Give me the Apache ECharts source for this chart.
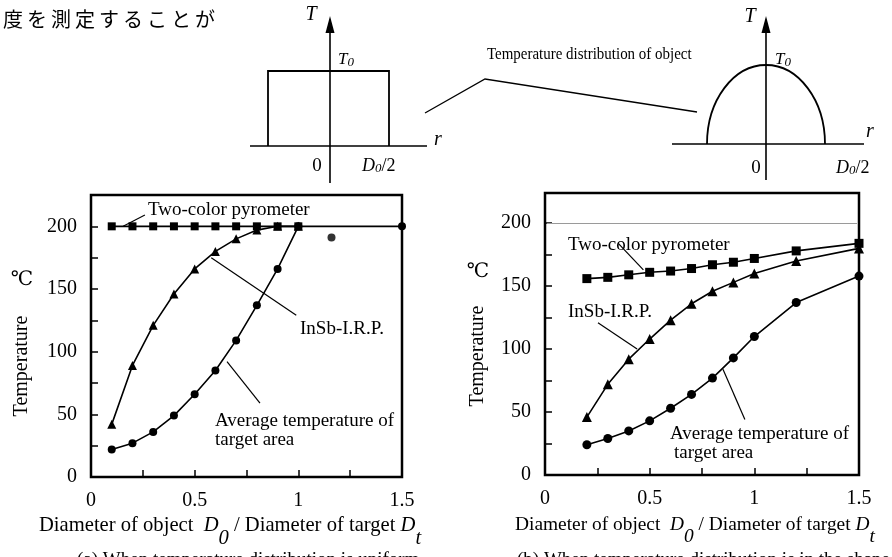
<!DOCTYPE html>
<html>
<head>
<meta charset="utf-8">
<script src="https://cdn.jsdelivr.net/npm/echarts@6/dist/echarts.min.js"></script>
<style>
html,body{margin:0;padding:0;background:#fff;}
#c{width:892px;height:557px;}
</style>
</head>
<body>
<div id="c"></div>
<script>
// ---- data: (a) uniform temperature distribution ----
const ratioA    = [0.1, 0.2, 0.3, 0.4, 0.5, 0.6, 0.7, 0.8, 0.9, 1.0];
const twoColorA = [200, 200, 200, 200, 200, 200, 200, 200, 200, 200];
const insbA     = [42, 89, 121, 146, 166, 180, 190, 197, 200, 200];
const ratioAvgA = [0.1, 0.2, 0.3, 0.4, 0.5, 0.6, 0.7, 0.8, 0.9, 1.0, 1.5];
const avgA      = [22, 27, 36, 49, 66, 85, 109, 137, 166, 200, 200];
const strayA    = [[1.16, 191]];

// ---- data: (b) semi-elliptical temperature distribution ----
const ratioB    = [0.2, 0.3, 0.4, 0.5, 0.6, 0.7, 0.8, 0.9, 1.0, 1.2, 1.5];
const twoColorB = [156, 157, 159, 161, 162, 164, 167, 169, 172, 178, 184];
const insbB     = [46, 72, 92, 108, 123, 136, 146, 153, 160, 170, 180];
const avgB      = [24, 29, 35, 43, 53, 64, 77, 93, 110, 137, 158];

// ---- tick labels ----
const xTickLabels = [0, 0.5, 1, 1.5];
const yTickLabels = [0, 50, 100, 150, 200];

const SERIF = "'Liberation Serif','DejaVu Serif',serif";
const zip = (xs, ys) => xs.map((x, i) => [x, ys[i]]);

function xAxisFor(gi) {
  return {
    type: 'value', gridIndex: gi, min: 0, max: 1.5, interval: 0.25,
    axisLine: { show: false },
    axisTick: { show: true, inside: true, length: 7, lineStyle: { color: '#000', width: 1.5 } },
    splitLine: { show: false },
    axisLabel: {
      color: '#000', fontSize: 20, fontFamily: SERIF, margin: 14,
      formatter: v => xTickLabels.includes(v) ? String(v) : ''
    }
  };
}
function yAxisFor(gi, max) {
  return {
    type: 'value', gridIndex: gi, min: 0, max: max, interval: 25,
    axisLine: { show: false },
    axisTick: { show: true, inside: true, length: 7, lineStyle: { color: '#000', width: 1.5 } },
    splitLine: { show: false },
    axisLabel: {
      color: '#000', fontSize: 20, fontFamily: SERIF, margin: 14,
      formatter: v => yTickLabels.includes(v) ? String(v) : ''
    }
  };
}
function lineSeries(gi, data, symbol, size, extra) {
  return Object.assign({
    type: 'line', xAxisIndex: gi, yAxisIndex: gi, data: data,
    symbol: symbol, symbolSize: size, showAllSymbol: true,
    lineStyle: { color: '#000', width: 1.6 },
    itemStyle: { color: '#000', borderWidth: 0 },
    animation: false, z: 3
  }, extra || {});
}
function leader(pairs) {
  return {
    silent: true, symbol: 'none', animation: false,
    label: { show: false },
    lineStyle: { color: '#000', width: 1.2, type: 'solid' },
    data: pairs.map(p => [{ coord: p[0] }, { coord: p[1] }])
  };
}

const txt = (x, y, text, opt, el) => Object.assign({
  type: 'text', x: x, y: y, silent: true,
  style: Object.assign({ text: text, fill: '#000', font: '19px ' + SERIF, textAlign: 'left', textVerticalAlign: 'middle' }, opt || {})
}, el || {});
const ln = (pts, w) => ({
  type: 'polyline', silent: true,
  shape: { points: pts }, style: { stroke: '#000', lineWidth: w || 1.6, fill: null }
});

const graphics = [];

// heading fragment, one glyph per cell
const heading = '温度を測定することが';
for (let i = 0; i < heading.length; i++) {
  graphics.push(txt(-21 + i * 24, 19, heading[i], { font: "20px 'Noto Sans CJK JP'", textAlign: 'left' }));
}

// schematic: uniform profile
graphics.push(ln([[330, 183], [330, 26]]));
graphics.push({ type: 'polygon', silent: true, shape: { points: [[330, 16], [325.5, 33], [334.5, 33]] }, style: { fill: '#000' } });
graphics.push(ln([[250, 146], [427, 146]]));
graphics.push(ln([[268, 146], [268, 71], [389, 71], [389, 146]], 1.8));
graphics.push(txt(311, 15, 'T', { font: 'italic 20px ' + SERIF, textAlign: 'center' }));
graphics.push({ type: 'text', x: 338, y: 60, silent: true, style: {
  text: '{a|T}{b|0}', textVerticalAlign: 'middle',
  rich: { a: { font: 'italic 17px ' + SERIF, fill: '#000' }, b: { font: 'italic 13px ' + SERIF, fill: '#000', padding: [6, 0, 0, 0] } } } });
graphics.push(txt(438, 140, 'r', { font: 'italic 20px ' + SERIF, textAlign: 'center' }));
graphics.push(txt(317, 166, '0', { font: '19px ' + SERIF, textAlign: 'center' }));
graphics.push({ type: 'text', x: 362, y: 166, silent: true, style: {
  text: '{a|D}{b|0}{c|/2}', textVerticalAlign: 'middle',
  rich: { a: { font: 'italic 18px ' + SERIF, fill: '#000' }, b: { font: 'italic 13px ' + SERIF, fill: '#000', padding: [5, 0, 0, 0] }, c: { font: '18px ' + SERIF, fill: '#000' } } } });

// connector to the two profiles
graphics.push(ln([[425, 113], [485, 79], [697, 112]], 1.3));
graphics.push(txt(487, 55, 'Temperature distribution of object', { font: '17px ' + SERIF }, { scaleX: 0.88 }));

// schematic: semi-elliptical profile
const cx = 766, cy = 144, rx = 59, ry = 79, k = 0.5523;
graphics.push(ln([[766, 180], [766, 26]]));
graphics.push({ type: 'polygon', silent: true, shape: { points: [[766, 16], [761.5, 33], [770.5, 33]] }, style: { fill: '#000' } });
graphics.push(ln([[672, 144], [864, 144]]));
graphics.push({ type: 'bezierCurve', silent: true, shape: { x1: cx - rx, y1: cy, cpx1: cx - rx, cpy1: cy - ry * k, cpx2: cx - rx * k, cpy2: cy - ry, x2: cx, y2: cy - ry }, style: { stroke: '#000', lineWidth: 1.8, fill: null } });
graphics.push({ type: 'bezierCurve', silent: true, shape: { x1: cx, y1: cy - ry, cpx1: cx + rx * k, cpy1: cy - ry, cpx2: cx + rx, cpy2: cy - ry * k, x2: cx + rx, y2: cy }, style: { stroke: '#000', lineWidth: 1.8, fill: null } });
graphics.push(txt(750, 17, 'T', { font: 'italic 20px ' + SERIF, textAlign: 'center' }));
graphics.push({ type: 'text', x: 775, y: 60, silent: true, style: {
  text: '{a|T}{b|0}', textVerticalAlign: 'middle',
  rich: { a: { font: 'italic 17px ' + SERIF, fill: '#000' }, b: { font: 'italic 13px ' + SERIF, fill: '#000', padding: [6, 0, 0, 0] } } } });
graphics.push(txt(870, 132, 'r', { font: 'italic 20px ' + SERIF, textAlign: 'center' }));
graphics.push(txt(756, 168, '0', { font: '19px ' + SERIF, textAlign: 'center' }));
graphics.push({ type: 'text', x: 836, y: 168, silent: true, style: {
  text: '{a|D}{b|0}{c|/2}', textVerticalAlign: 'middle',
  rich: { a: { font: 'italic 18px ' + SERIF, fill: '#000' }, b: { font: 'italic 13px ' + SERIF, fill: '#000', padding: [5, 0, 0, 0] }, c: { font: '18px ' + SERIF, fill: '#000' } } } });

// curve captions, panel (a)
graphics.push(txt(148, 210, 'Two-color pyrometer'));
graphics.push(txt(300, 329, 'InSb-I.R.P.'));
graphics.push(txt(215, 421, 'Average temperature of'));
graphics.push(txt(215, 440, 'target area'));
// curve captions, panel (b)
graphics.push(txt(568, 245, 'Two-color pyrometer'));
graphics.push(txt(568, 312, 'InSb-I.R.P.'));
graphics.push(txt(670, 434, 'Average temperature of'));
graphics.push(txt(674, 453, 'target area'));

// vertical axis titles
[[22, 366, 22, 280], [478, 356, 478, 272]].forEach(p => {
  graphics.push({ type: 'text', x: p[0], y: p[1], rotation: Math.PI / 2, silent: true,
    style: { text: 'Temperature', fill: '#000', font: '20px ' + SERIF, textAlign: 'center', textVerticalAlign: 'middle' } });
  graphics.push(txt(p[2], p[3], '℃', { font: '20px ' + SERIF, textAlign: 'center' }));
});

// horizontal axis titles
function xTitleRich(size, drop) {
  return {
    n: { font: size + 'px ' + SERIF, fill: '#000' },
    i: { font: 'italic ' + size + 'px ' + SERIF, fill: '#000' },
    s: { font: 'italic ' + size + 'px ' + SERIF, fill: '#000', padding: [drop, 0, 0, 0] }
  };
}
const xTitle = '{n|Diameter of object  }{i|D}{s|0}{n| / Diameter of target }{i|D}{s|t}';
graphics.push({ type: 'text', x: 39, y: 526, silent: true, style: {
  text: xTitle, textVerticalAlign: 'middle', rich: xTitleRich(20.6, 25) } });
graphics.push({ type: 'text', x: 515, y: 525, silent: true, style: {
  text: xTitle, textVerticalAlign: 'middle', rich: xTitleRich(19.4, 24) } });

// captions running off the bottom edge
graphics.push(txt(77, 560, '(a) When temperature distribution is uniform', { font: '19px ' + SERIF }));
graphics.push(txt(517, 560, '(b) When temperature distribution is in the shape of a semi-ellipse', { font: '19px ' + SERIF }));

const chart = echarts.init(document.getElementById('c'), null, { renderer: 'canvas' });
chart.setOption({
  animation: false,
  backgroundColor: '#fff',
  grid: [
    { left: 91, top: 195, width: 311, height: 282, show: true, borderColor: '#000', borderWidth: 2.5, backgroundColor: 'transparent' },
    { left: 545, top: 193, width: 314, height: 282, show: true, borderColor: '#000', borderWidth: 2.5, backgroundColor: 'transparent' }
  ],
  xAxis: [xAxisFor(0), xAxisFor(1)],
  yAxis: [yAxisFor(0, 225), yAxisFor(1, 224)],
  series: [
    lineSeries(0, zip(ratioAvgA, avgA), 'circle', 8, {
      markLine: leader([[[0.656, 92], [0.815, 59]]])
    }),
    lineSeries(0, zip(ratioA, insbA), 'triangle', 9, {
      markLine: leader([[[0.58, 175], [0.99, 129]]])
    }),
    lineSeries(0, zip(ratioA, twoColorA), 'rect', 8, {
      markLine: leader([[[0.26, 209], [0.155, 200]]])
    }),
    { type: 'scatter', xAxisIndex: 0, yAxisIndex: 0, data: strayA, symbol: 'circle', symbolSize: 8, itemStyle: { color: '#000' }, animation: false },

    lineSeries(1, zip(ratioB, avgB), 'circle', 9, {
      markLine: leader([[[0.85, 84], [0.955, 44]]])
    }),
    lineSeries(1, zip(ratioB, insbB), 'triangle', 10, {
      markLine: leader([[[0.253, 121], [0.44, 100]]])
    }),
    lineSeries(1, zip(ratioB, twoColorB), 'rect', 9, {
      markLine: {
        silent: true, symbol: 'none', animation: false, label: { show: false },
        data: [
          [{ coord: [0.35, 184], lineStyle: { color: '#000', width: 1.2, type: 'solid' } }, { coord: [0.47, 163] }],
          [{ yAxis: 200, x: 547, lineStyle: { color: '#9a9a9a', width: 1, type: 'solid' } }, { yAxis: 200, x: 857 }]
        ]
      }
    })
  ],
  graphic: graphics
});
</script>
</body>
</html>
